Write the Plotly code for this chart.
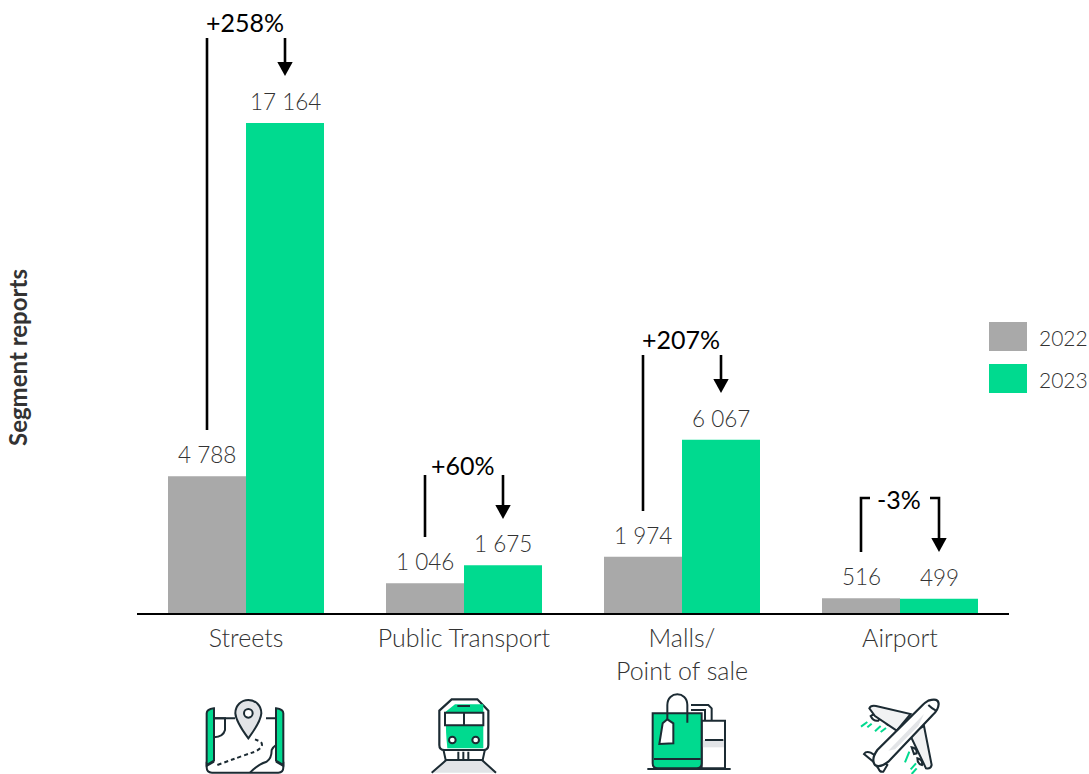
import re
import plotly.graph_objects as go

# Chart content
categories = ["Streets", "Public Transport", "Malls/<br>Point of sale", "Airport"]
years = ["2022", "2023"]
values_2022 = [4788, 1046, 1974, 516]
values_2023 = [17164, 1675, 6067, 499]
changes = ["+258%", "+60%", "+207%", "-3%"]
axis_title = "Segment reports"

GREY = "#A9A9A9"
GREEN = "#00DA8F"
INK = "#1C2B33"
PALE = "#E2E4E7"
TEXT = "#333333"
FONT = "Lato"
W, H = 1089, 774
LEFT, RIGHT, BASE = 137, 1009, 613
Y_TOP = 21471
GROUP_STEP = 218
BAR_PX = 78


def px(x):
    return (x - LEFT) / (RIGHT - LEFT)


def py(y):
    return (BASE - y) / BASE


def spaced(v):
    return f"{v:,}".replace(",", " ")


def icon_path(d, ox, oy):
    # Icon outlines are written at 3x scale from a local origin
    out, is_x = [], True
    for tok in re.findall(r"[A-Za-z]|-?\d+\.?\d*", d):
        if tok.isalpha():
            out.append(tok)
            is_x = True
        else:
            v = float(tok) / 3
            out.append(f"{px(ox + v):.5f}" if is_x else f"{py(oy + v):.5f}")
            is_x = not is_x
    return " ".join(out)


shapes = []


def stroke(d, ox, oy, fill=None, color=INK, width=2, dash=None):
    shapes.append(dict(type="path", xref="paper", yref="paper", path=icon_path(d, ox, oy),
                       fillcolor=fill or "rgba(0,0,0,0)",
                       line=dict(color=color, width=width, dash=dash) if width else dict(width=0)))


def circle(cx, cy, r, ox, oy, fill, width=2):
    c = f"M {cx-r} {cy} C {cx-r} {cy-r*.55} {cx-r*.55} {cy-r} {cx} {cy-r} C {cx+r*.55} {cy-r} {cx+r} {cy-r*.55} {cx+r} {cy} C {cx+r} {cy+r*.55} {cx+r*.55} {cy+r} {cx} {cy+r} C {cx-r*.55} {cy+r} {cx-r} {cy+r*.55} {cx-r} {cy} Z"
    stroke(c, ox, oy, fill=fill, width=width)


# Map icon
o = (190, 690)
stroke("M 72 85 L 135 85 M 228 85 L 258 85", *o)
stroke("M 72 85 L 105 85 L 105 120 Q 100 140 72 142", *o)
stroke("M 50 215 L 50 232 Q 50 248 66 248 L 265 248 Q 280 248 280 232 L 280 215", *o, fill="#FFFFFF")
stroke("M 72 215 L 50 228", *o)
stroke("M 258 215 L 280 228", *o)
stroke("M 180 248 Q 205 222 230 215 Q 245 205 245 180 Q 250 170 258 165", *o)
stroke("M 50 70 Q 50 58 72 55 L 72 212 L 50 225 Z", *o, fill=GREEN)
stroke("M 258 55 Q 280 58 280 70 L 280 225 L 258 212 Z", *o, fill=GREEN)
stroke("M 175 145 Q 138 95 136 70 C 136 45 155 30 175 30 C 195 30 214 45 214 70 Q 212 95 175 145 Z", *o, fill=PALE)
circle(175, 70, 13, *o, "#FFFFFF")
stroke("M 82 225 Q 150 200 195 185 Q 225 170 212 155 L 195 148", *o, dash="4px,3px")

# Train icon
stroke("M 725 248 L 775 205 L 870 205 L 918 248", *o, fill=PALE)
stroke("M 760 178 L 885 178 L 878 210 L 767 210 Z", *o, fill="#FFFFFF")
stroke("M 805 185 L 805 210 M 820 185 L 820 212 M 835 185 L 835 210", *o)
stroke("M 748 62 L 785 28 L 862 28 L 895 62 L 895 165 Q 895 180 880 180 L 763 180 Q 748 180 748 165 Z", *o, fill="#FFFFFF", width=2.2)
stroke("M 767 65 L 795 43 L 880 43 L 880 175 L 772 175 Q 767 130 767 65 Z", *o, fill=GREEN, width=0)
stroke("M 802 48 L 840 48", *o)
stroke("M 765 68 L 880 68 L 880 106 L 765 106 Z M 822 68 L 822 106", *o, fill="#FFFFFF")
circle(787, 150, 10, *o, "#FFFFFF")
circle(857, 150, 10, *o, "#FFFFFF")

# Shopping bags icon
o = (630, 690)
stroke("M 183 45 L 235 45 L 245 55 L 245 115 L 225 115 L 225 60 L 183 60", *o, fill="#FFFFFF")
stroke("M 215 92 L 285 92 L 285 235 L 215 235 Z", *o, fill="#FFFFFF")
stroke("M 218 150 L 282 150 L 282 172 L 218 172 Z", *o, fill=PALE, width=0)
stroke("M 225 150 L 280 150", *o)
stroke("M 68 70 L 215 70 L 215 220 Q 215 235 200 235 L 83 235 Q 68 235 68 220 Z", *o, fill=GREEN)
stroke("M 72 207 L 212 207", *o)
stroke("M 112 95 L 112 45 C 112 2 172 2 172 45 L 172 98", *o)
stroke("M 98 100 L 112 88 L 130 100 L 130 160 L 88 162 Z", *o, fill="#FFFFFF")
stroke("M 52 237 L 302 237", *o, width=2.2)

# Aeroplane icon
for seg in ["M 693 110 L 712 96", "M 712 112 L 725 101", "M 735 124 L 752 108", "M 752 126 L 768 114",
            "M 825 217 L 838 185", "M 842 238 L 858 220", "M 845 252 L 860 235"]:
    stroke(seg, *o, color=GREEN, width=2)
stroke("M 722 78 Q 735 68 750 85 L 745 92 Q 730 95 722 78 Z M 765 92 Q 780 88 785 105 Q 770 110 765 92 Z", *o, fill="#FFFFFF")
stroke("M 845 172 Q 862 175 860 190 L 852 192 Z M 862 205 Q 880 210 876 225 Q 862 222 862 205 Z", *o, fill="#FFFFFF")
stroke("M 718 55 Q 722 45 738 48 L 842 72 L 800 122 L 735 78 Z", *o, fill="#F1F2F3")
stroke("M 882 108 L 905 225 Q 902 238 888 235 L 838 130 Z", *o, fill="#F1F2F3")
stroke("M 702 192 Q 708 183 722 188 L 750 205 L 772 225 L 760 245 Q 750 248 745 235 L 730 215 Z", *o, fill="#FFFFFF")
stroke("M 895 32 Q 925 22 926 42 Q 925 60 908 75 L 775 215 Q 750 235 735 225 Q 722 208 742 180 L 878 45 Q 885 38 895 32 Z", *o, fill="#FFFFFF", width=2.2)
stroke("M 775 182 L 882 72 L 865 108 L 795 178 Z", *o, fill=PALE, width=0)
stroke("M 895 45 Q 905 55 918 62", *o)

# Change callouts spanning each pair of bars
CALLOUTS = [
    dict(cx=246, top=38, left_end=430, arrow_tip=76, label_y=22, hook=0),
    dict(cx=464, top=475, left_end=537, arrow_tip=519, label_y=465, hook=0),
    dict(cx=682, top=355, left_end=511, arrow_tip=393, label_y=339, hook=0),
    dict(cx=900, top=498, left_end=552, arrow_tip=552, label_y=499, hook=9),
]
annotations = []
for c, text in zip(CALLOUTS, changes):
    xl, xr = c["cx"] - BAR_PX / 2, c["cx"] + BAR_PX / 2
    if c["hook"]:
        left = f"M {px(xl + c['hook'])} {py(c['top'])} L {px(xl)} {py(c['top'])} L {px(xl)} {py(c['left_end'])}"
        right = f"M {px(xr - c['hook'])} {py(c['top'])} L {px(xr)} {py(c['top'])} L {px(xr)} {py(c['arrow_tip'] - 12)}"
    else:
        left = f"M {px(xl)} {py(c['top'])} L {px(xl)} {py(c['left_end'])}"
        right = f"M {px(xr)} {py(c['top'])} L {px(xr)} {py(c['arrow_tip'] - 12)}"
    for p in (left, right):
        shapes.append(dict(type="path", xref="paper", yref="paper", path=p, line=dict(color="#000000", width=2.6)))
    tip = c["arrow_tip"]
    shapes.append(dict(type="path", xref="paper", yref="paper",
                       path=f"M {px(xr - 7.7)} {py(tip - 14)} L {px(xr + 7.7)} {py(tip - 14)} L {px(xr)} {py(tip)} Z",
                       fillcolor="#000000", line=dict(width=0)))
    annotations.append(dict(xref="paper", yref="paper", x=px(c["cx"] - 1), y=py(c["label_y"]), text=text,
                            showarrow=False, xanchor="center", yanchor="middle",
                            font=dict(family=FONT, size=25, color="#000000")))

# Year key, drawn larger than the stock legend swatches
for name, color, top in zip(years, [GREY, GREEN], [322, 364]):
    shapes.append(dict(type="rect", xref="paper", yref="paper", x0=px(989), x1=px(1027),
                       y0=py(top), y1=py(top + 29), fillcolor=color, line=dict(width=0)))
    annotations.append(dict(xref="paper", yref="paper", x=px(1037), y=py(top + 15), text=name, showarrow=False,
                            xanchor="left", yanchor="middle",
                            font=dict(family=FONT, size=21, color=TEXT, weight=300)))

annotations.append(dict(xref="paper", yref="paper", x=px(18), y=py(358), text=f"<b>{axis_title}</b>", textangle=-90,
                        showarrow=False, xanchor="center", yanchor="middle",
                        font=dict(family=FONT, size=24, color=TEXT)))

fig = go.Figure()
positions = list(range(len(categories)))
offset = BAR_PX / 2 / GROUP_STEP
for name, vals, color, side in zip(years, [values_2022, values_2023], [GREY, GREEN], [-1, 1]):
    fig.add_trace(go.Bar(x=positions, y=vals, name=name, marker=dict(color=color, line=dict(width=0))))
    # Value labels sit a fixed distance above each bar
    for pos, v in zip(positions, vals):
        annotations.append(dict(xref="x", yref="y", x=pos + side * offset, y=v, text=spaced(v), yshift=6,
                                showarrow=False, xanchor="center", yanchor="bottom",
                                font=dict(family=FONT, size=22.5, color=TEXT, weight=300)))

fig.update_layout(
    width=W, height=H, autosize=False, barmode="group", bargap=1 - 2 * BAR_PX / GROUP_STEP, bargroupgap=0,
    margin=dict(l=LEFT, r=W - RIGHT, t=0, b=H - BASE, pad=0),
    plot_bgcolor="#FFFFFF", paper_bgcolor="#FFFFFF", showlegend=False,
    shapes=shapes, annotations=annotations,
    font=dict(family=FONT),
    xaxis=dict(range=[-0.5, 3.5], tickmode="array", tickvals=positions, ticktext=categories,
               showgrid=False, zeroline=False, showline=True, linecolor="#000000", linewidth=2,
               ticks="outside", ticklen=2, tickcolor="rgba(0,0,0,0)",
               tickfont=dict(family=FONT, size=25, color=TEXT, weight=300)),
    yaxis=dict(range=[0, Y_TOP], visible=False),
)
fig.write_html("out.html")
